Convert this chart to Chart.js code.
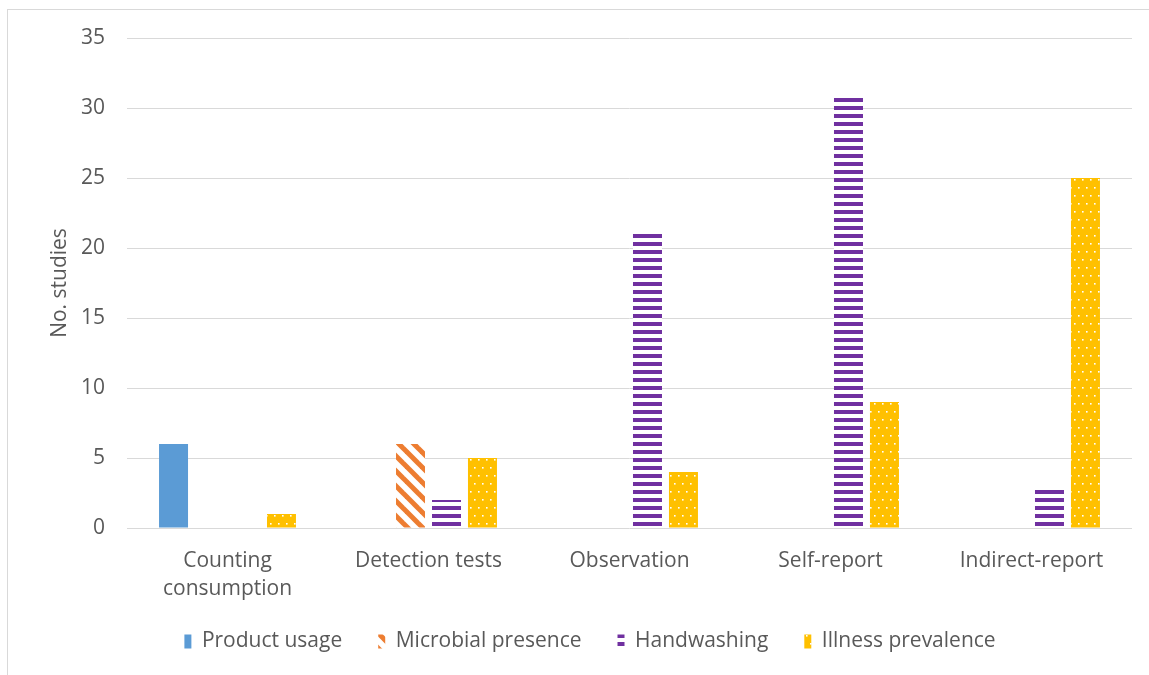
<!DOCTYPE html>
<html>
<head>
<meta charset="utf-8">
<script src="https://cdn.jsdelivr.net/npm/chart.js@4.4.1/dist/chart.umd.min.js"></script>
<style>
  html, body { margin: 0; padding: 0; background: #ffffff; }
  #wrap { position: relative; width: 1149px; height: 675px; overflow: hidden; }
  #frame { position: absolute; left: 7px; top: 9px; width: 1200px; height: 700px;
           border-left: 1px solid #d9d9d9; border-top: 1px solid #d9d9d9; pointer-events: none; }
  canvas { position: absolute; left: 0; top: 0; }
</style>
</head>
<body>
<div id="wrap">
  <canvas id="c" width="1149" height="675"></canvas>
  <div id="frame"></div>
</div>
<script>
const categories = [["Counting", "consumption"], "Detection tests", "Observation", "Self-report", "Indirect-report"];
const seriesNames = ["Product usage", "Microbial presence", "Handwashing", "Illness prevalence"];
const productUsage = [6, null, null, null, null];
const microbialPresence = [null, 6, null, null, null];
const handwashing = [null, 2, 21, 31, 3];
const illnessPrevalence = [1, 5, 4, 9, 25];
const yTicks = [0, 5, 10, 15, 20, 25, 30, 35];

const BLUE = '#5B9BD5', ORANGE = '#ED7D31', PURPLE = '#7030A0', GOLD = '#FFC000';
const TEXT = '#595959';
const FONT = "'Open Sans', 'Noto Sans', sans-serif";
const FS = 21;

function makeTile(w, h, draw) {
  const t = document.createElement('canvas');
  t.width = w; t.height = h;
  const g = t.getContext('2d');
  draw(g, w, h);
  return document.getElementById('c').getContext('2d').createPattern(t, 'repeat');
}
const diagPattern = makeTile(15, 15, (g, s) => {
  g.fillStyle = '#ffffff'; g.fillRect(0, 0, s, s);
  g.strokeStyle = ORANGE; g.lineWidth = 5; g.lineCap = 'square';
  for (const off of [-s, 0, s]) {
    g.beginPath(); g.moveTo(off, 0); g.lineTo(off + s, s); g.stroke();
  }
});
const hLinePattern = makeTile(8, 8, (g, w, h) => {
  g.fillStyle = '#ffffff'; g.fillRect(0, 0, w, h);
  g.fillStyle = PURPLE; g.fillRect(0, 2, w, 4);
});
const dotPattern = makeTile(8, 16, (g, w, h) => {
  g.fillStyle = GOLD; g.fillRect(0, 0, w, h);
  g.fillStyle = '#ffffff';
  g.fillRect(2, 3, 1.6, 1.6);
  g.fillRect(6, 11, 1.6, 1.6);
});

const ds = (label, data, bg) => ({
  label, data, backgroundColor: bg, borderWidth: 0,
  categoryPercentage: 0.716, barPercentage: 0.806
});

const legendShift = {
  id: 'legendShift',
  afterLayout(chart) {
    const lg = chart.legend;
    if (lg) { lg.top -= 13; lg.bottom -= 13; lg.left += 24; lg.right += 24; }
  }
};

new Chart(document.getElementById('c'), {
  type: 'bar',
  data: {
    labels: categories,
    datasets: [
      ds(seriesNames[0], productUsage, BLUE),
      ds(seriesNames[1], microbialPresence, diagPattern),
      ds(seriesNames[2], handwashing, hLinePattern),
      ds(seriesNames[3], illnessPrevalence, dotPattern)
    ]
  },
  plugins: [legendShift],
  options: {
    responsive: false,
    animation: false,
    devicePixelRatio: 1,
    layout: { padding: { top: 38, right: 17, bottom: 0, left: 0 } },
    plugins: {
      tooltip: { enabled: false },
      legend: {
        position: 'bottom',
        labels: {
          boxWidth: 7, boxHeight: 14, padding: 36,
          color: TEXT, font: { family: FONT, size: FS }
        }
      }
    },
    scales: {
      x: {
        grid: { display: false, drawTicks: false },
        border: { display: false },
        ticks: { color: TEXT, padding: 19, maxRotation: 0, autoSkip: false,
                 font: { family: FONT, size: FS, lineHeight: 1.333 } },
        afterFit: (s) => { s.height = 80; }
      },
      y: {
        min: 0, max: 35,
        afterBuildTicks: (s) => { s.ticks = yTicks.map(v => ({ value: v })); },
        grid: { color: '#d9d9d9', lineWidth: 1, drawTicks: false },
        border: { display: false },
        ticks: { color: TEXT, padding: 22, font: { family: FONT, size: FS } },
        title: { display: true, text: 'No. studies', color: TEXT,
                 font: { family: FONT, size: FS }, padding: { top: 47, bottom: 0 } },
        afterFit: (s) => { s.width = 127; }
      }
    }
  }
});
</script>
</body>
</html>
